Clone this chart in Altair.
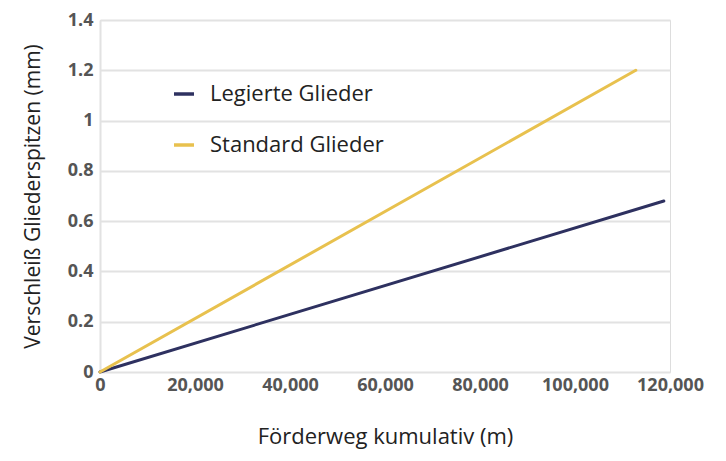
import altair as alt
import pandas as pd

series = ["Legierte Glieder", "Legierte Glieder", "Standard Glieder", "Standard Glieder"]
foerderweg = [0, 118700, 0, 112800]
verschleiss = [0.0, 0.68, 0.0, 1.2]
x_ticks = [0, 20000, 40000, 60000, 80000, 100000, 120000]
y_ticks = [0, 0.2, 0.4, 0.6, 0.8, 1.0, 1.2, 1.4]
colors = ["#2e3160", "#e8c14e"]
order = ["Legierte Glieder", "Standard Glieder"]

df = pd.DataFrame({"serie": series, "x": foerderweg, "y": verschleiss})

font = "Open Sans"

chart = alt.Chart(df).mark_line(strokeWidth=3, strokeCap="round").encode(
    x=alt.X("x:Q", title="Förderweg kumulativ (m)",
            scale=alt.Scale(domain=[0, 120000], nice=False),
            axis=alt.Axis(values=x_ticks, format=",d", grid=False, domain=False, ticks=False,
                          labelFont=font, labelFontWeight="bold", labelFontSize=18, labelColor="#555",
                          labelPadding=4, titleFont=font, titleFontWeight="normal", titleFontSize=22,
                          titleColor="#222", titlePadding=32, labelFlush=False)),
    y=alt.Y("y:Q", title="Verschleiß Gliederspitzen (mm)",
            scale=alt.Scale(domain=[0, 1.4], nice=False),
            axis=alt.Axis(values=y_ticks, grid=True, gridColor="#e2e2e2", gridWidth=2,
                          domain=True, domainColor="#e2e2e2", domainWidth=2, ticks=False,
                          labelFont=font, labelFontWeight="bold", labelFontSize=18, labelColor="#555",
                          labelPadding=7, titleFont=font, titleFontWeight="normal", titleFontSize=21,
                          titleColor="#222", titlePadding=24,
                          labelExpr="datum.value == 1 ? '1' : format(datum.value, '.1~f')")),
    color=alt.Color("serie:N", sort=order,
                    scale=alt.Scale(domain=order, range=colors),
                    legend=alt.Legend(title=None, orient="none", legendX=72, legendY=62,
                                      symbolType="stroke", symbolSize=400, symbolStrokeWidth=3.5,
                                      labelFont=font, labelFontSize=22, labelColor="#222",
                                      labelLimit=400, rowPadding=28, labelOffset=14)),
).properties(
    width=570, height=352,
    autosize=alt.AutoSizeParams(type="none"),
    padding={"left": 92, "top": 12, "right": 48, "bottom": 88},
).configure_view(stroke=None).configure(background="white")

chart.save("out.html", embed_options={"renderer": "svg", "actions": False})
